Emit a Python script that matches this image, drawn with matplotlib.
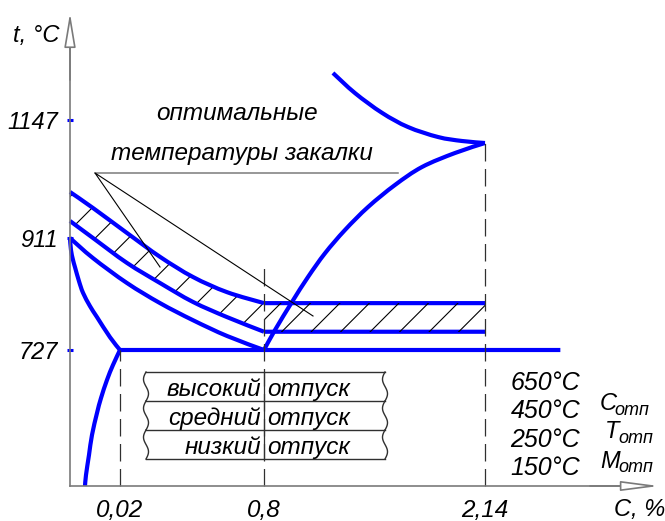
import numpy as np
import matplotlib
matplotlib.use('Agg')
import matplotlib.pyplot as plt
import matplotlib.transforms as mtransforms
from matplotlib.path import Path
from matplotlib.patches import PathPatch

plt.rcParams['font.family'] = ['Liberation Sans', 'DejaVu Sans']
plt.rcParams['font.style'] = 'italic'
plt.rcParams['hatch.linewidth'] = 0.8

# axis ticks: carbon, % and temperature, C
tick_c = [0.02, 0.8, 2.14]
tick_c_labels = ['0,02', '0,8', '2,14']
tick_t = [727, 911, 1147]
tick_t_labels = ['727', '911', '1147']

# phase lines (C %, T C)
gp_c = [0, 0.0004, 0.0012, 0.002, 0.0036, 0.0052, 0.008, 0.0108, 0.016, 0.02]
gp_t = [911, 891, 875, 863, 840, 821, 799, 781, 748, 727]
pq_c = [0.02, 0.0172, 0.0148, 0.0124, 0.0108, 0.0088, 0.0076, 0.0064, 0.006]
pq_t = [727, 647, 567, 470, 390, 273, 166, 59, 0]
gs_c = [0, 0.0092, 0.058, 0.237, 0.415, 0.600, 0.8]
gs_t = [911, 878, 837, 804, 776, 750, 727]
es_c = [0.8, 0.867, 0.970, 1.067, 1.170, 1.291, 1.431, 1.594, 1.758, 1.958, 2.14]
es_t = [727, 760, 806, 847, 886, 927, 973, 1017, 1053, 1081, 1101]
liq_c = [1.218, 1.352, 1.516, 1.673, 1.855, 2.001, 2.14]
liq_t = [1266, 1215, 1165, 1133, 1113, 1105, 1101]
a1_c = [0.02, 2.5]
a1_t = [727, 727]

# optimal hardening band
band_c = [0, 0.0092, 0.058, 0.237, 0.415, 0.600, 0.8]
band_hi = [1003, 971, 921, 880, 847, 822, 804]
band_lo = [945, 911, 870, 837, 806, 781, 757]
flat_c = [0.8, 2.14]
flat_hi = [804, 804]
flat_lo = [757, 757]

# dashed verticals: carbon, top temperature
vline_c = [0.02, 0.8, 2.14]
vline_top = [727, 862, 1101]

temper_names = ['высокий', 'средний', 'низкий']
temper_temps = ['650°C', '450°C', '250°C', '150°C']
temper_marks = ['C', 'T', 'M']

# axis break points (schematic, not to scale)
XC = [-0.028, 0, 0.02, 0.8, 2.14, 3.0]
XP = [0, 70, 120, 264, 485, 665]
YT = [-187, 0, 727, 911, 1147, 1400, 1450]
YP = [0, 35, 171, 283, 401, 501, 521]

W, H = 665, 521
fig = plt.figure(figsize=(W / 100, H / 100), dpi=100)
ax = fig.add_axes([0, 0, 1, 1])
ax.set_xscale('function', functions=(lambda c: np.interp(c, XC, XP),
                                     lambda p: np.interp(p, XP, XC)))
ax.set_yscale('function', functions=(lambda t: np.interp(t, YT, YP),
                                     lambda p: np.interp(p, YP, YT)))
ax.set_xlim(XC[0], XC[-1])
ax.set_ylim(YT[0], YT[-1])
ax.patch.set_visible(False)

# pixel layout (top-left origin) for texts and decorations
lay = mtransforms.Affine2D().scale(1 / W, -1 / H).translate(0, 1) + fig.transFigure

blue = '#0000ff'
grey = '#7a7a7a'


def smooth_line(xs, ys, **kw):
    # smooth curve through the read points (Catmull-Rom as cubic Beziers)
    p = ax.transScale.transform(np.column_stack([xs, ys]))
    ext = np.vstack([p[0], p, p[-1]])
    verts = [p[0]]
    for i in range(len(p) - 1):
        a, b, c, d = ext[i], ext[i + 1], ext[i + 2], ext[i + 3]
        verts += [b + (c - a) / 6, c - (d - b) / 6, c]
    codes = [Path.MOVETO] + [Path.CURVE4] * (3 * (len(p) - 1))
    ax.add_patch(PathPatch(Path(verts, codes), transform=ax.transLimits + ax.transAxes,
                           fill=False, **kw))


# hatch
ax.fill_between(band_c, band_hi, band_lo, facecolor='none', edgecolor='black',
                hatch='/', linewidth=0)
flat = ax.fill_between(flat_c, flat_hi, flat_lo, facecolor='none', linewidth=0)
flat_path = flat.get_paths()[0]
for x0 in np.arange(222, 500, 29.5):
    ln, = ax.plot([x0, x0 + 60], [362, 302], color='black', lw=0.8, transform=lay)
    ln.set_clip_path(flat_path, ax.transData)

# dashed lines
for c, top in zip(vline_c, vline_top):
    ax.plot([c, c], [0, top], color='#303030', lw=0.9, dashes=(14, 6))

# phase lines
for xs, ys in [(gp_c, gp_t), (pq_c, pq_t), (gs_c, gs_t), (es_c, es_t),
               (liq_c, liq_t), (a1_c, a1_t), (band_c, band_hi), (band_c, band_lo),
               (flat_c, flat_hi), (flat_c, flat_lo)]:
    smooth_line(xs, ys, edgecolor=blue, lw=3, capstyle='butt', joinstyle='round')

# axes
for s in ['top', 'right']:
    ax.spines[s].set_visible(False)
ax.spines['left'].set_position(('data', 0))
ax.spines['bottom'].set_position(('data', 0))
ax.spines['left'].set_bounds(0, 1390)
ax.spines['bottom'].set_bounds(0, 2.84)
for s in ['left', 'bottom']:
    ax.spines[s].set_color(grey)
    ax.spines[s].set_linewidth(1.2)
ax.set_xticks(tick_c, tick_c_labels)
ax.set_yticks(tick_t, tick_t_labels)
ax.tick_params(axis='x', length=0, pad=9, labelsize=17.5)
ax.tick_params(axis='y', direction='inout', length=5, width=2.2, color=blue,
               pad=6, labelsize=17)
ax.minorticks_off()

arrow = dict(arrowstyle='-|>,head_length=2.1,head_width=0.35', mutation_scale=10,
             fc='white', ec=grey, lw=1.2, shrinkA=0, shrinkB=0)
ax.annotate('', xy=(70, 13), xytext=(70, 80), xycoords=lay, textcoords=lay, arrowprops=arrow)
ax.annotate('', xy=(659, 486), xytext=(590, 486), xycoords=lay, textcoords=lay,
            arrowprops=dict(arrow, arrowstyle='-|>,head_length=2.3,head_width=0.3'))
ax.text(13, 42, 't, °C', transform=lay, fontsize=17, ha='left', va='baseline')
ax.text(640, 516, 'C, %', transform=lay, fontsize=17, ha='center', va='baseline')

# caption with leaders
ax.text(237, 120, 'оптимальные', transform=lay, fontsize=17.5, ha='center', va='baseline')
ax.text(242, 160, 'температуры закалки', transform=lay, fontsize=17.5,
        ha='center', va='baseline')
ax.plot([95, 398], [173, 173], color=grey, lw=1.1, transform=lay)
ax.plot([160, 95, 313], [267, 173, 316], color='black', lw=0.8, transform=lay)

# tempering table
rows_y = [372, 401, 430, 459]
ax.plot([264, 264], [372, 459], color='#303030', lw=0.9, transform=lay)
for y in rows_y:
    ax.plot([146, 385], [y, y], color='#303030', lw=1, transform=lay)
s = np.linspace(0, 1, 30)
for y0, y1 in zip(rows_y[:-1], rows_y[1:]):
    yy = y0 + (y1 - y0) * s
    ax.plot(146 - 2.5 * np.sin(2 * np.pi * s), yy, color='#303030', lw=1, transform=lay)
    ax.plot(385 - 2.5 * np.sin(2 * np.pi * s), yy, color='#303030', lw=1, transform=lay)
for name, base in zip(temper_names, [396, 425, 454]):
    ax.text(261, base, name, transform=lay, fontsize=17.5, ha='right', va='baseline')
    ax.text(267, base, 'отпуск', transform=lay, fontsize=17.5, ha='left', va='baseline')

for label, base in zip(temper_temps, [390, 418, 447, 475]):
    ax.text(580, base, label, transform=lay, fontsize=18, ha='right', va='baseline')
for m, (x, base, sub_x, sub_base) in zip(temper_marks, [(600, 410, 614, 415),
                                                        (605, 438, 618, 443),
                                                        (600, 468, 618, 472)]):
    ax.text(x, base, m, transform=lay, fontsize=17, ha='left', va='baseline')
    ax.text(sub_x, sub_base, 'отп', transform=lay, fontsize=13, ha='left', va='baseline')

fig.savefig('out.png', dpi=100)
